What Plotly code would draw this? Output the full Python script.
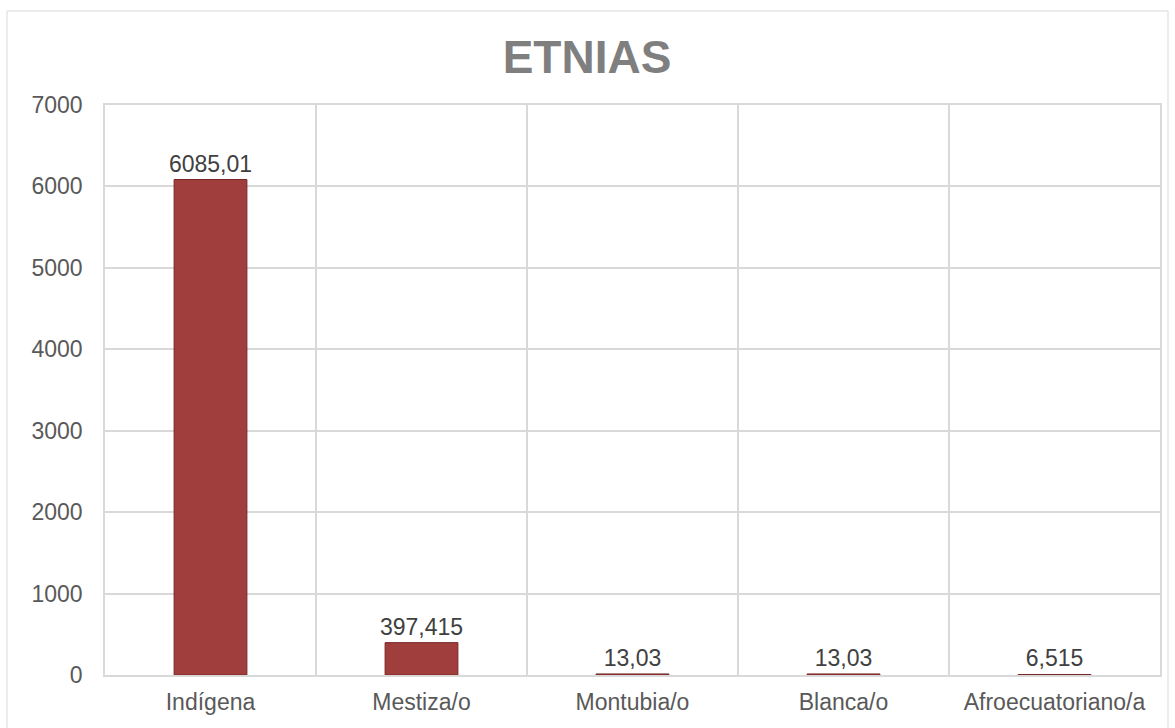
import plotly.graph_objects as go

categories = ["Indígena", "Mestiza/o", "Montubia/o", "Blanca/o", "Afroecuatoriano/a"]
values = [6085.01, 397.415, 13.03, 13.03, 6.515]
y_ticks = [0, 1000, 2000, 3000, 4000, 5000, 6000, 7000]

labels = [f"{v:g}".replace(".", ",") for v in values]

W, H = 1175, 728
L, R, T, B = 105, 15, 105, 53
FONT = "Liberation Sans, Arial, sans-serif"

fig = go.Figure()
fig.add_trace(go.Bar(
    x=categories, y=values, text=labels, textposition="outside",
    constraintext="none",
    textfont=dict(family=FONT, size=23, color="#404040"),
    marker=dict(color="#A03D3D", line=dict(color="#7A2626", width=1)),
    width=0.345, cliponaxis=False,
))

pw, ph = W - L - R, H - T - B
fig.add_shape(type="rect", xref="paper", yref="paper",
              x0=(7 - L) / pw, x1=(1168 - L) / pw,
              y0=(H - B - 740) / ph, y1=(H - B - 11) / ph,
              line=dict(color="#D9D9D9", width=1), fillcolor="rgba(0,0,0,0)", layer="below")

fig.update_layout(
    width=W, height=H,
    margin=dict(l=L, r=R, t=T, b=B),
    paper_bgcolor="white", plot_bgcolor="white",
    separators=",.",
    showlegend=False,
    title=dict(text="<b>ETNIAS</b>", x=587 / W, xref="container", xanchor="center",
               y=(H - 57) / H, yanchor="middle",
               font=dict(family=FONT, size=46, color="#7F7F7F")),
    font=dict(family=FONT, size=23, color="#595959"),
    xaxis=dict(tickson="boundaries", showgrid=True, gridcolor="#D9D9D9", gridwidth=1.5,
               showline=True, linecolor="#D9D9D9", linewidth=1.5, mirror=True,
               ticks="", ticklabelstandoff=6,
               tickfont=dict(family=FONT, size=23, color="#595959")),
    yaxis=dict(range=[0, 7000], tickvals=y_ticks, tickformat="d",
               showgrid=True, gridcolor="#D9D9D9", gridwidth=1.5,
               showline=True, linecolor="#D9D9D9", linewidth=1.5, mirror=True,
               zeroline=False, ticks="", ticklabelstandoff=16,
               tickfont=dict(family=FONT, size=23, color="#595959")),
)

fig.write_html("out.html", config={"displayModeBar": False},
               post_script="document.body.style.margin='0';document.body.style.padding='0';")
